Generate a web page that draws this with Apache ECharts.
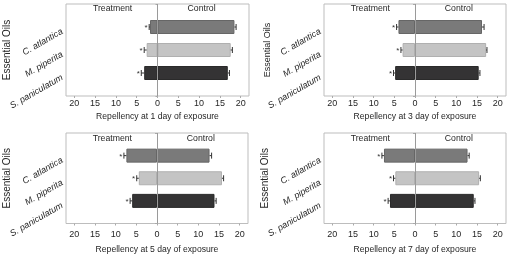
<!DOCTYPE html>
<html><head><meta charset="utf-8">
<script src="https://cdn.jsdelivr.net/npm/echarts@6/dist/echarts.min.js"></script>
<style>html,body{margin:0;padding:0;background:#fff}#c{width:510px;height:255px}</style>
</head><body><div id="c"></div>
<script>
const categories = ['C. atlantica', 'M. piperita', 'S. paniculatum'];
const days = ['1', '3', '5', '7'];
const treatment1 = [1.8, 2.6, 3.2];   const treatmentErr1 = [0.2, 0.6, 0.7];
const control1   = [18.5, 17.6, 16.9]; const controlErr1  = [0.4, 0.4, 0.4];
const treatment3 = [4.0, 3.0, 4.8];   const treatmentErr3 = [0.45, 0.4, 0.4];
const control3   = [16.2, 17.2, 15.4]; const controlErr3  = [0.5, 0.2, 0.3];
const treatment5 = [7.4, 4.4, 6.0];   const treatmentErr5 = [0.6, 0.5, 0.5];
const control5   = [12.7, 15.7, 13.9]; const controlErr5  = [0.5, 0.4, 0.4];
const treatment7 = [7.5, 4.75, 6.05]; const treatmentErr7 = [0.5, 0.45, 0.45];
const control7   = [12.7, 15.5, 14.2]; const controlErr7  = [0.4, 0.3, 0.3];
const xTicks = [-20, -15, -10, -5, 0, 5, 10, 15, 20];

const panels = [
  {t: treatment1, te: treatmentErr1, c: control1, ce: controlErr1},
  {t: treatment3, te: treatmentErr3, c: control3, ce: controlErr3},
  {t: treatment5, te: treatmentErr5, c: control5, ce: controlErr5},
  {t: treatment7, te: treatmentErr7, c: control7, ce: controlErr7}
];
const barColors = ['#7a7a7a', '#c4c4c4', '#343334'];
const barBorders = ['#666666', '#b0b0b0', '#2a2a2a'];
const grids = [
  {left: 66, top: 4, width: 183, height: 92},
  {left: 324, top: 4, width: 182, height: 92},
  {left: 66, top: 133, width: 182, height: 92},
  {left: 324, top: 133, width: 182, height: 92}
];
const headerOffset = [4.5, 4.5, 6, 6];
const yNameGap = [53.5, 52, 54, 54];
const yNameSize = [10, 9, 10, 10];
const xNameGap = [16.5, 16.5, 21.5, 21.5];
const xLabelMargin = [3.5, 3.5, 6.5, 6.5];
const TXT = '#262626';
const FONT = 'Liberation Sans, Arial, sans-serif';

const chart = echarts.init(document.getElementById('c'), null, {renderer: 'canvas'});
const option = {
  animation: false,
  grid: grids.map(g => Object.assign({show: true, borderColor: '#bdbdbd', borderWidth: 1, containLabel: false}, g)),
  xAxis: grids.map((g, i) => ({
    gridIndex: i, type: 'value', min: -22, max: 22,
    name: 'Repellency at ' + days[i] + ' day of exposure',
    nameLocation: 'middle', nameGap: xNameGap[i], nameMoveOverlap: false,
    nameTextStyle: {fontFamily: FONT, fontSize: 8.6, color: TXT},
    axisLine: {show: false},
    splitLine: {show: false},
    axisTick: {show: true, customValues: xTicks, length: 2, lineStyle: {color: '#aaa'}},
    axisLabel: {customValues: xTicks, formatter: v => String(Math.abs(v)), fontFamily: FONT, fontSize: 9, color: TXT, margin: xLabelMargin[i]}
  })),
  yAxis: grids.map((g, i) => ({
    gridIndex: i, type: 'category', inverse: true, boundaryGap: false,
    data: [''].concat(categories, ['']),
    name: 'Essential Oils', nameLocation: 'middle', nameGap: yNameGap[i], nameMoveOverlap: false,
    nameTextStyle: {fontFamily: FONT, fontSize: yNameSize[i], color: TXT},
    axisLine: {show: false},
    axisTick: {show: true, length: 2, lineStyle: {color: '#aaa'}},
    axisLabel: {rotate: 30, fontStyle: 'italic', fontFamily: FONT, fontSize: 9, color: TXT, margin: 6, interval: 0, verticalAlign: 'top'}
  })),
  series: []
};

panels.forEach((p, i) => {
  const mk = (arr, sign) => ['-'].concat(arr.map((v, k) => ({
    value: sign * v,
    itemStyle: {color: barColors[k], borderColor: barBorders[k], borderWidth: 1}
  })), ['-']);
  option.series.push({
    type: 'bar', xAxisIndex: i, yAxisIndex: i, stack: 's' + i, barWidth: 14, z: 2,
    data: mk(p.t, -1)
  });
  option.series.push({
    type: 'bar', xAxisIndex: i, yAxisIndex: i, stack: 's' + i, barWidth: 14, z: 2,
    data: mk(p.c, 1)
  });
  const errData = [];
  p.t.forEach((v, k) => errData.push([-v, k + 1, p.te[k], 1]));
  p.c.forEach((v, k) => errData.push([v, k + 1, p.ce[k], 0]));
  option.series.push({
    type: 'custom', xAxisIndex: i, yAxisIndex: i, z: 5,
    encode: {x: 0, y: 1},
    data: errData,
    renderItem: function (params, api) {
      const x = api.value(0), y = api.value(1), e = api.value(2), star = api.value(3);
      const dir = x < 0 ? -1 : 1;
      const p0 = api.coord([x, y]);
      const p1 = api.coord([x + dir * e, y]);
      const st = {stroke: '#333', lineWidth: 1};
      const children = [
        {type: 'line', shape: {x1: p0[0], y1: p0[1], x2: p1[0], y2: p1[1]}, style: st},
        {type: 'line', shape: {x1: p1[0], y1: p1[1] - 3, x2: p1[0], y2: p1[1] + 3}, style: st}
      ];
      if (star) {
        children.push({type: 'text', x: p1[0] - 1.5, y: p1[1] + 1,
          style: {text: '*', fill: '#333', font: '8px ' + FONT, align: 'right', verticalAlign: 'middle'}});
      }
      return {type: 'group', children: children};
    }
  });
  option.series.push({
    type: 'line', xAxisIndex: i, yAxisIndex: i, data: [], z: 6,
    markLine: {silent: true, symbol: 'none', label: {show: false},
      lineStyle: {color: '#9a9a9a', width: 1, type: 'solid'},
      data: [{xAxis: 0}]}
  });
});

chart.setOption(option);

const graphics = [];
grids.forEach((g, i) => {
  const xt = chart.convertToPixel({xAxisIndex: i}, -10.8);
  const xc = chart.convertToPixel({xAxisIndex: i}, 10.6);
  const ty = g.top + headerOffset[i];
  graphics.push({type: 'text', x: xt, y: ty, style: {text: 'Treatment', font: '8.7px ' + FONT, fill: TXT, align: 'center', verticalAlign: 'middle'}});
  graphics.push({type: 'text', x: xc, y: ty, style: {text: 'Control', font: '8.7px ' + FONT, fill: TXT, align: 'center', verticalAlign: 'middle'}});
});
chart.setOption({graphic: graphics});
</script>
</body></html>
